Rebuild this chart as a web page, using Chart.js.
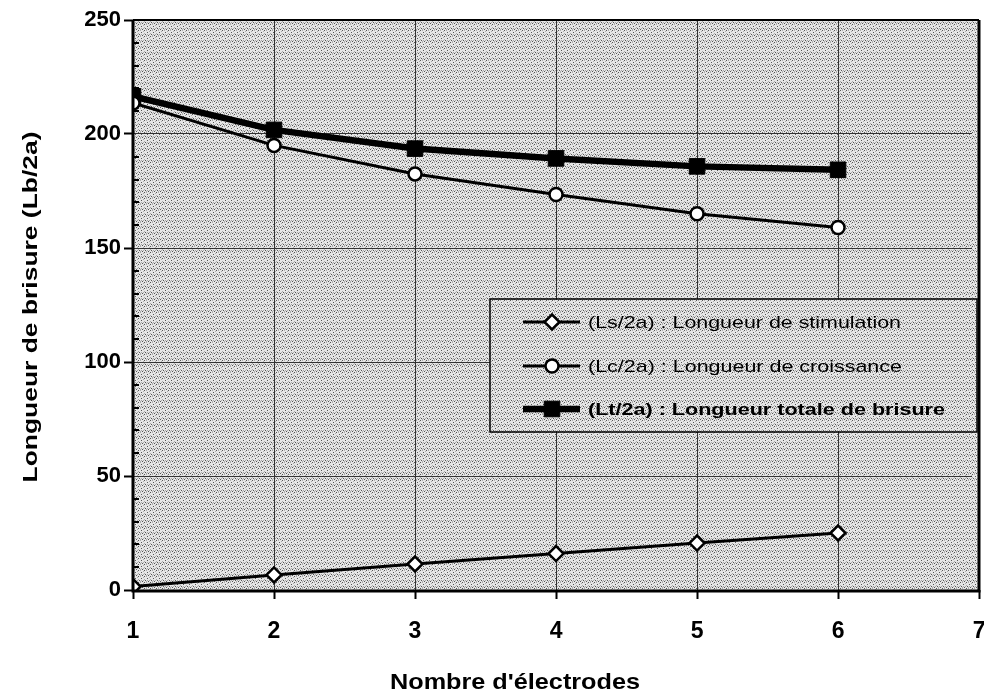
<!DOCTYPE html>
<html><head><meta charset="utf-8">
<script src="https://cdn.jsdelivr.net/npm/chart.js@4"></script>
<style>html,body{margin:0;padding:0;background:#fff}#wrap{width:984px;height:695px;position:relative}</style>
</head><body><div id="wrap"><canvas id="c" width="984" height="695"></canvas></div>
<script>
const categories = [1, 2, 3, 4, 5, 6];
const lsValues = [1.5, 6.6, 11.4, 16, 20.6, 25];
const lcValues = [213.6, 195, 182.5, 173.5, 165, 159];
const ltValues = [216.5, 201.8, 193.6, 189.3, 185.8, 184.3];
const seriesLabels = ['(Ls/2a) : Longueur de stimulation', '(Lc/2a) : Longueur de croissance', '(Lt/2a) : Longueur totale de brisure'];
const xTicks = [1, 2, 3, 4, 5, 6, 7];
const yTicks = [0, 50, 100, 150, 200, 250];
const xTitle = "Nombre d'électrodes";
const yTitle = 'Longueur de brisure (Lb/2a)';
const X_END = 7;

const FONT = '"Liberation Sans", Arial, sans-serif';
const pts = arr => categories.map((c, i) => ({x: c, y: arr[i]}));

// stipple-like fill pattern
function makePattern(ctx) {
  const t = document.createElement('canvas');
  t.width = 6; t.height = 6;
  const g = t.getContext('2d');
  g.fillStyle = '#e6e6e6'; g.fillRect(0, 0, 6, 6);
  g.fillStyle = '#555';
  [[0,0],[3,2],[1,4],[4,5]].forEach(([x,y]) => g.fillRect(x, y, 1, 1));
  g.fillStyle = '#aaa';
  [[2,0],[5,1],[0,3],[3,4],[5,4],[2,5]].forEach(([x,y]) => g.fillRect(x, y, 1, 1));
  return ctx.createPattern(t, 'repeat');
}

function stretchText(ctx, text, x, y, targetW, align) {
  const w = ctx.measureText(text).width;
  const s = targetW / w;
  ctx.save();
  ctx.translate(x, y);
  ctx.scale(s, 1);
  ctx.textAlign = 'left';
  ctx.fillText(text, align === 'center' ? -w / 2 : 0, 0);
  ctx.restore();
}

let PAT = null;
const plotRight = chart => Math.round(chart.scales.x.getPixelForValue(X_END));
const bgPlugin = {
  id: 'bg',
  beforeDatasetsDraw(chart) {
    // grid drawn already; nothing
  },
  beforeDraw(chart) {
    const {ctx, chartArea: a} = chart;
    if (!PAT) PAT = makePattern(ctx);
    ctx.save();
    ctx.fillStyle = PAT;
    ctx.fillRect(a.left, a.top, plotRight(chart) - a.left, a.bottom - a.top);
    ctx.restore();
  },
  afterDatasetsDraw(chart) {
    const {ctx, chartArea: a, scales} = chart;
    const y = scales.y;
    const R = plotRight(chart);
    ctx.save();
    ctx.strokeStyle = '#000';
    ctx.lineWidth = 2;
    ctx.beginPath(); ctx.moveTo(a.left, a.top); ctx.lineTo(R, a.top); ctx.stroke();
    ctx.lineWidth = 3;
    ctx.beginPath();
    ctx.moveTo(a.left, a.top); ctx.lineTo(a.left, a.bottom + 1);
    ctx.lineTo(R, a.bottom + 1);
    ctx.lineTo(R, a.top);
    ctx.stroke();
    // minor ticks on y axis (inside)
    ctx.lineWidth = 2;
    for (let v = 10; v < 250; v += 10) {
      if (v % 50 === 0) continue;
      const py = Math.round(y.getPixelForValue(v));
      ctx.beginPath(); ctx.moveTo(a.left, py); ctx.lineTo(a.left + 6, py); ctx.stroke();
    }
    // legend
    const bx = 490, by = 299, bw = R - 2 - 490, bh = 133;
    ctx.fillStyle = PAT;
    ctx.fillRect(bx, by, bw, bh);
    ctx.lineWidth = 1.5;
    ctx.strokeStyle = '#000';
    ctx.strokeRect(bx, by, bw, bh);
    const rows = [322, 366, 409];
    const widths = [313, 314, 357];
    chart.data.datasets.forEach((ds, i) => {
      const ry = rows[i];
      ctx.strokeStyle = '#000';
      ctx.lineWidth = ds.borderWidth;
      ctx.beginPath(); ctx.moveTo(523, ry); ctx.lineTo(580, ry); ctx.stroke();
      ctx.fillStyle = ds.pointBackgroundColor; ctx.lineWidth = ds.pointBorderWidth;
      Chart.helpers.drawPoint(ctx, {pointStyle: ds.pointStyle, radius: ds.pointRadius, borderWidth: ds.pointBorderWidth, rotation: 0}, 552, ry);
      ctx.fillStyle = '#000';
      ctx.font = (i === 2 ? 'bold ' : '') + '17px ' + FONT;
      ctx.textBaseline = 'middle';
      stretchText(ctx, seriesLabels[i], 588, ry + 1, widths[i], 'left');
    });
    ctx.restore();
  },
  afterDraw(chart) {
    const {ctx} = chart;
    ctx.save();
    ctx.fillStyle = '#000';
    ctx.font = 'bold 22px ' + FONT;
    ctx.textBaseline = 'alphabetic';
    stretchText(ctx, xTitle, 515, 689, 250, 'center');
    ctx.translate(37, 307);
    ctx.rotate(-Math.PI / 2);
    ctx.font = 'bold 20px ' + FONT;
    stretchText(ctx, yTitle, 0, 0, 351, 'center');
    ctx.restore();
  }
};

new Chart(document.getElementById('c'), {
  type: 'line',
  data: {
    datasets: [
      {label: seriesLabels[0], data: pts(lsValues), borderColor: '#000', borderWidth: 3,
       pointStyle: 'rectRot', pointRadius: 7.5, pointBackgroundColor: '#fff', pointBorderColor: '#000', pointBorderWidth: 2.5},
      {label: seriesLabels[1], data: pts(lcValues), borderColor: '#000', borderWidth: 3,
       pointStyle: 'circle', pointRadius: 6.5, pointBackgroundColor: '#fff', pointBorderColor: '#000', pointBorderWidth: 2.5},
      {label: seriesLabels[2], data: pts(ltValues), borderColor: '#000', borderWidth: 6.5,
       pointStyle: 'rect', pointRadius: 11, pointBackgroundColor: '#000', pointBorderColor: '#000', pointBorderWidth: 1}
    ]
  },
  options: {
    responsive: false,
    animation: false,
    layout: {padding: {left: 0, right: 0, top: 20, bottom: 0}},
    plugins: {legend: {display: false}, tooltip: {enabled: false}},
    scales: {
      x: {
        type: 'linear', min: 1, max: 6.95,
        afterBuildTicks: s => { s.ticks = xTicks.map(v => ({value: v})); },
        afterFit: s => { s.height = 105; s.paddingLeft = 0; s.paddingRight = 0; },
        grid: {color: '#333', lineWidth: 1, drawTicks: true, tickLength: 9, tickColor: '#000', tickWidth: 2},
        border: {display: false},
        ticks: {color: '#000', padding: 2, maxRotation: 0, font: {family: FONT, size: 23, weight: 'bold', lineHeight: 2.7}},
        title: {display: false}
      },
      y: {
        type: 'linear', min: 0, max: 250,
        afterBuildTicks: s => { s.ticks = yTicks.map(v => ({value: v})); },
        afterFit: s => { s.width = 133; },
        grid: {color: '#333', lineWidth: 1, drawTicks: true, tickLength: 9, tickColor: '#000', tickWidth: 2},
        border: {display: false},
        ticks: {color: '#000', padding: 3, font: {family: FONT, size: 22, weight: 'bold'}},
        title: {display: false}
      }
    }
  },
  plugins: [bgPlugin]
});
</script></body></html>
